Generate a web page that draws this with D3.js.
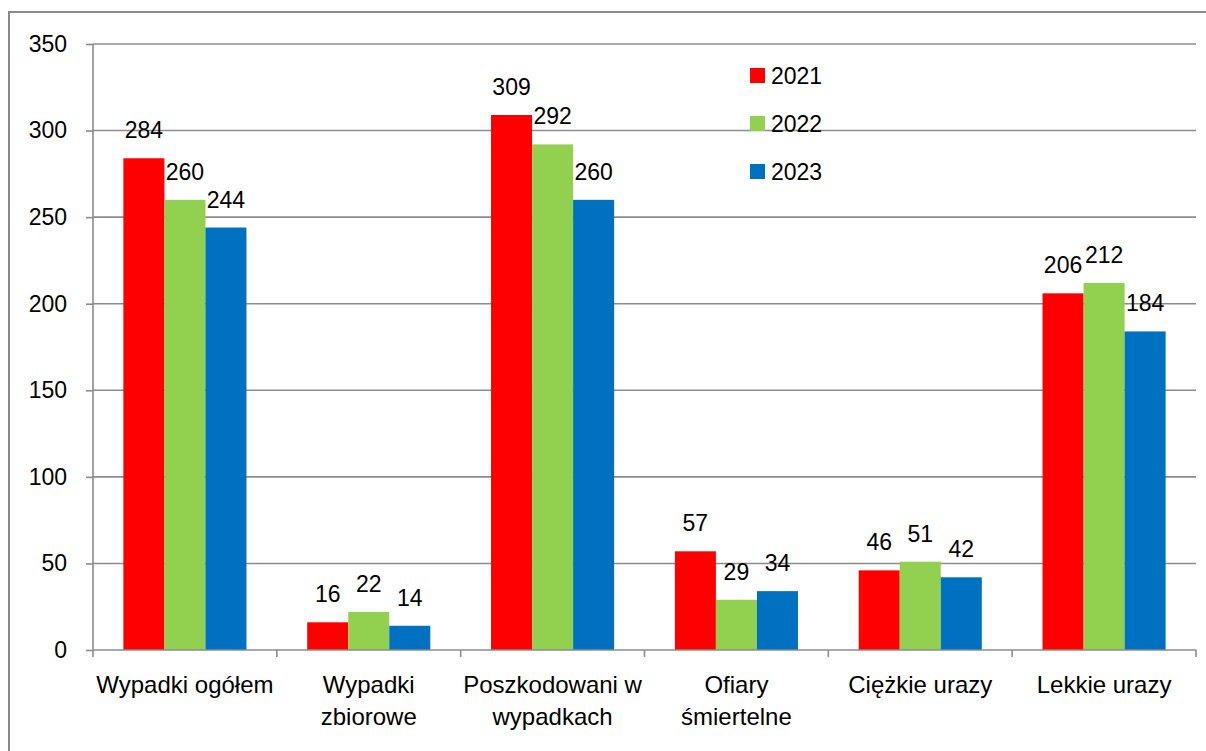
<!DOCTYPE html>
<html>
<head>
<meta charset="utf-8">
<script src="https://cdn.jsdelivr.net/npm/d3@7"></script>
<style>
  html, body { margin: 0; padding: 0; background: #fff; }
  svg { display: block; }
  text { font-family: "Liberation Sans", Arial, sans-serif; fill: #000; }
</style>
</head>
<body>
<svg id="chart" width="1206" height="751"></svg>
<script>
const categories = [
  ["Wypadki ogółem"],
  ["Wypadki", "zbiorowe"],
  ["Poszkodowani w", "wypadkach"],
  ["Ofiary", "śmiertelne"],
  ["Ciężkie urazy"],
  ["Lekkie urazy"]
];
const years = ["2021", "2022", "2023"];
const values2021 = [284, 16, 309, 57, 46, 206];
const values2022 = [260, 22, 292, 29, 51, 212];
const values2023 = [244, 14, 260, 34, 42, 184];
const yTicks = [0, 50, 100, 150, 200, 250, 300, 350];
const colors = ["#FF0000", "#92D050", "#0070C0"];

(function () {
const series = [values2021, values2022, values2023];
const catKeys = categories.map(c => c.join(" "));

const svg = d3.select("#chart");
const fontSize = 23;
const catFontSize = 24;

// outer border
svg.append("rect")
  .attr("x", 9).attr("y", 12)
  .attr("width", 1300).attr("height", 900)
  .attr("fill", "none").attr("stroke", "#8a8a8a").attr("stroke-width", 2);

const pLeft = 93, pRight = 1196, pTop = 44, pBottom = 650;

const y = d3.scaleLinear().domain([0, 350]).range([pBottom, pTop]);
const x = d3.scaleBand().domain(catKeys).range([pLeft, pRight]).padding(0);
const xs = d3.scaleBand().domain(years).range([0, x.bandwidth()]).paddingInner(0).paddingOuter(0.74);

const gridColor = "#8c8c8c";

// gridlines
svg.append("g").selectAll("line").data(yTicks.filter(d => d > 0)).join("line")
  .attr("x1", pLeft).attr("x2", pRight)
  .attr("y1", d => y(d)).attr("y2", d => y(d))
  .attr("stroke", gridColor).attr("stroke-width", 1.6);

// y axis
const yAxis = d3.axisLeft(y).tickValues(yTicks).tickSize(7).tickPadding(19).tickFormat(d3.format("d"));
const gy = svg.append("g").attr("transform", `translate(${pLeft},0)`).call(yAxis);
gy.select(".domain").attr("stroke", gridColor).attr("stroke-width", 1.6).attr("d", `M0,${pBottom}V${pTop}`);
gy.selectAll(".tick line").attr("stroke", gridColor).attr("stroke-width", 1.6);
gy.selectAll(".tick text").attr("font-size", fontSize).attr("font-family", "Liberation Sans, Arial, sans-serif").attr("fill", "#000");

// bars
const groups = svg.append("g").selectAll("g").data(catKeys).join("g")
  .attr("transform", d => `translate(${x(d)},0)`);

years.forEach((yr, si) => {
  groups.append("rect")
    .attr("x", xs(yr))
    .attr("width", xs.bandwidth())
    .attr("y", (d, i) => y(series[si][i]))
    .attr("height", (d, i) => pBottom - y(series[si][i]))
    .attr("fill", colors[si]);
});
years.forEach((yr, si) => {
  groups.append("text")
    .attr("x", xs(yr) + xs.bandwidth() / 2)
    .attr("y", (d, i) => y(series[si][i]) - 20)
    .attr("text-anchor", "middle")
    .attr("font-size", fontSize)
    .text((d, i) => series[si][i]);
});

// x axis
svg.append("line")
  .attr("x1", pLeft).attr("x2", pRight).attr("y1", pBottom).attr("y2", pBottom)
  .attr("stroke", gridColor).attr("stroke-width", 1.6);
const boundaries = catKeys.map(k => x(k)).concat([pRight]);
svg.append("g").selectAll("line").data(boundaries).join("line")
  .attr("x1", d => d).attr("x2", d => d)
  .attr("y1", pBottom).attr("y2", pBottom + 7)
  .attr("stroke", gridColor).attr("stroke-width", 1.6);

// category labels
const labs = svg.append("g").selectAll("text").data(categories).join("text")
  .attr("x", (d, i) => x(catKeys[i]) + x.bandwidth() / 2)
  .attr("y", 693)
  .attr("text-anchor", "middle")
  .attr("font-size", catFontSize);
labs.selectAll("tspan").data(d => d).join("tspan")
  .attr("x", function() { return d3.select(this.parentNode).attr("x"); })
  .attr("dy", (d, i) => i === 0 ? 0 : 32)
  .text(d => d);

// legend
const lg = svg.append("g").selectAll("g").data(years).join("g")
  .attr("transform", (d, i) => `translate(750,${68 + i * 48})`);
lg.append("rect").attr("width", 15).attr("height", 15).attr("fill", (d, i) => colors[i]);
lg.append("text").attr("x", 21).attr("y", 7.5).attr("dy", "0.35em")
  .attr("font-size", fontSize).text(d => d);
})();
</script>
</body>
</html>
